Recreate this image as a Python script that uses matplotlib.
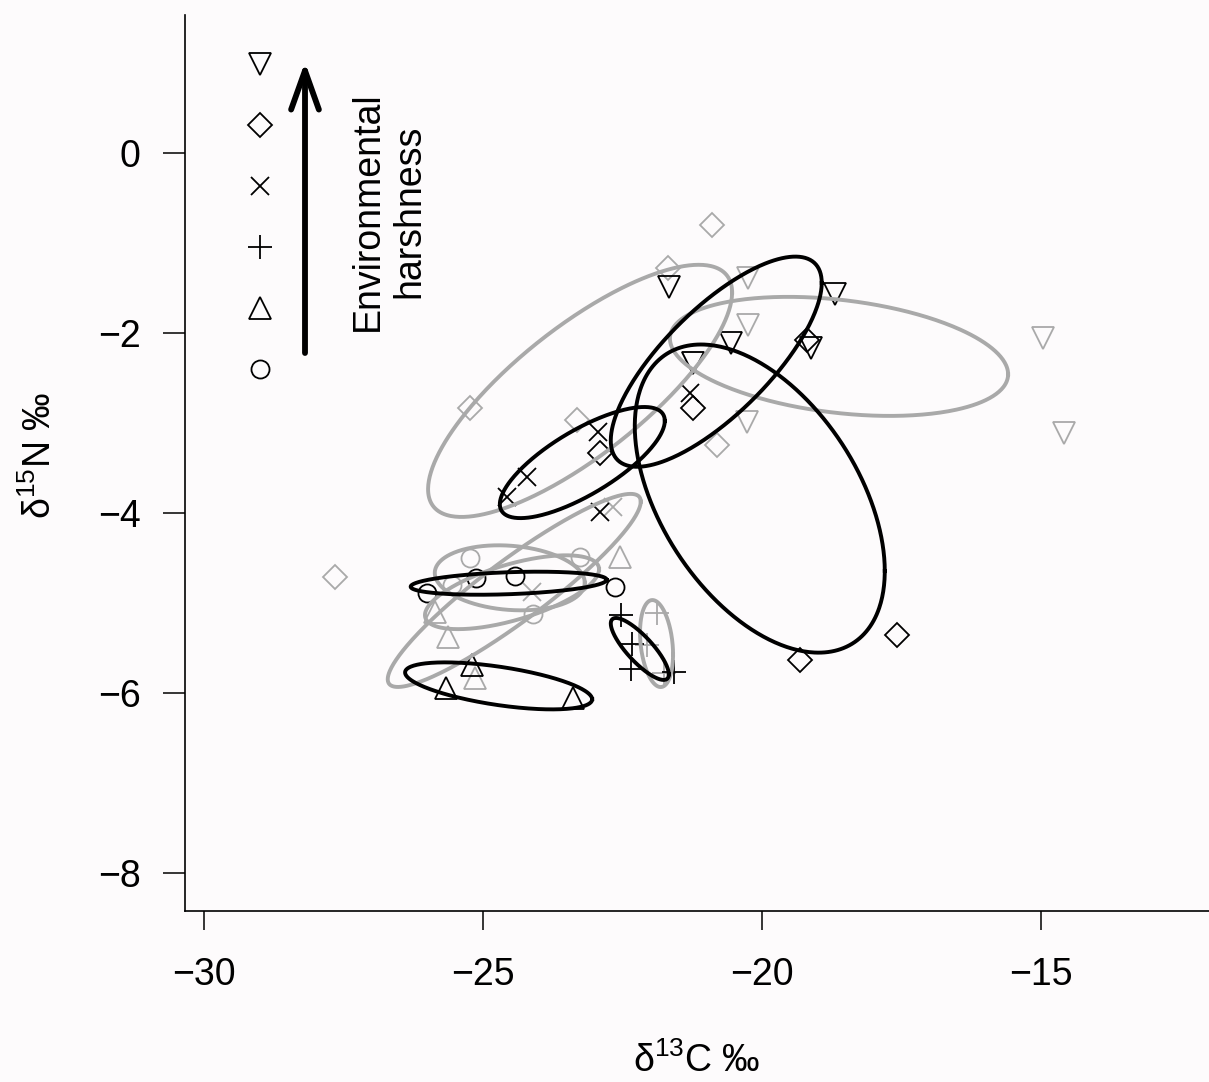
import matplotlib
matplotlib.use("Agg")
import matplotlib.pyplot as plt
import numpy as np

plt.rcParams['font.family'] = ['Liberation Sans', 'DejaVu Sans']
plt.rcParams['mathtext.fontset'] = 'custom'
plt.rcParams['mathtext.rm'] = 'Liberation Sans'

# ---------------- data (d13C, d15N) ----------------
# black = group 1, grey = group 2
circle_black_x = [-26.00, -25.13, -24.43, -22.63]
circle_black_y = [-4.89, -4.72, -4.70, -4.82]
circle_grey_x = [-25.23, -23.26, -24.10, -25.56]
circle_grey_y = [-4.50, -4.49, -5.12, -4.80]

triup_black_x = [-25.20, -25.66, -23.39]
triup_black_y = [-5.69, -5.94, -6.06]
triup_grey_x = [-22.54, -25.86, -25.63, -25.14]
triup_grey_y = [-4.49, -5.10, -5.38, -5.83]

plus_black_x = [-22.53, -22.33, -22.35, -21.58]
plus_black_y = [-5.13, -5.46, -5.73, -5.77]
plus_grey_x = [-21.88, -22.06, -21.76]
plus_grey_y = [-5.11, -5.47, -5.78]

cross_black_x = [-24.57, -24.21, -22.94, -22.90, -21.29]
cross_black_y = [-3.82, -3.60, -3.10, -3.99, -2.67]
cross_grey_x = [-22.67, -24.12]
cross_grey_y = [-3.93, -4.88]

diam_black_x = [-22.90, -21.24, -19.19, -19.32, -17.58]
diam_black_y = [-3.33, -2.83, -2.08, -5.63, -5.36]
diam_grey_x = [-25.23, -23.32, -21.68, -20.90, -20.81, -27.65]
diam_grey_y = [-2.83, -2.97, -1.28, -0.80, -3.24, -4.71]

tridn_black_x = [-21.67, -20.56, -18.69, -19.12, -21.24]
tridn_black_y = [-1.49, -2.11, -1.57, -2.17, -2.33]
tridn_grey_x = [-20.25, -20.25, -20.27, -14.96, -14.59, -21.24]
tridn_grey_y = [-1.39, -1.91, -2.99, -2.06, -3.11, -2.33]

# standard ellipses: centre x, centre y, sd x, sd y, correlation
ell_circle_black = [-24.54, -4.78, 1.756, 0.128, 0.30]
ell_triup_black = [-24.72, -5.92, 1.676, 0.261, -0.57]
ell_plus_black = [-22.19, -5.51, 0.52, 0.344, -0.82]
ell_cross_black = [-23.22, -3.44, 1.478, 0.617, 0.75]
ell_diam_black = [-20.04, -3.84, 2.24, 1.711, -0.47]
ell_tridn_black = [-20.82, -2.32, 1.89, 1.167, 0.75]

ell_circle_grey = [-24.52, -4.72, 1.344, 0.361, -0.15]
ell_triup_grey = [-24.44, -4.86, 2.267, 1.072, 0.92]
ell_cross_grey = [-24.48, -4.88, 1.56, 0.41, 0.62]
ell_diam_grey = [-23.26, -2.644, 2.724, 1.40, 0.78]
ell_plus_grey = [-21.89, -5.45, 0.296, 0.483, -0.25]
ell_tridn_grey = [-18.62, -2.261, 3.03, 0.661, -0.30]

x_ticks = [-30, -25, -20, -15]
y_ticks = [0, -2, -4, -6, -8]
legend_symbols = ['v', 'D', 'x', '+', '^', 'o']

# ---------------- style ----------------
BG = '#fdfbfc'
BLACK = '#000000'
GREY = '#a9a9a9'
FS = 27

fig = plt.figure(figsize=(12.09, 10.82), dpi=100, facecolor=BG)
ax = fig.add_axes([185 / 1209, (1082 - 911) / 1082, 1 - 185 / 1209, (911 - 15) / 1082])
ax.set_facecolor(BG)
ax.set_xlim(-30.34, -11.99)
ax.set_ylim(-8.42, 1.53)

marker_style = {
    'o': dict(ms=13),
    '^': dict(ms=16),
    'v': dict(ms=16),
    '+': dict(ms=17),
    'x': dict(ms=13),
    'D': dict(ms=12),
}

groups = [
    ('o', circle_black_x, circle_black_y, circle_grey_x, circle_grey_y),
    ('^', triup_black_x, triup_black_y, triup_grey_x, triup_grey_y),
    ('+', plus_black_x, plus_black_y, plus_grey_x, plus_grey_y),
    ('x', cross_black_x, cross_black_y, cross_grey_x, cross_grey_y),
    ('D', diam_black_x, diam_black_y, diam_grey_x, diam_grey_y),
    ('v', tridn_black_x, tridn_black_y, tridn_grey_x, tridn_grey_y),
]
for m, bx, by, gx, gy in groups:
    ax.plot(gx, gy, linestyle='none', marker=m, mfc='none', mec=GREY,
            mew=1.3, zorder=2, **marker_style[m])
    ax.plot(bx, by, linestyle='none', marker=m, mfc='none', mec=BLACK,
            mew=1.3, zorder=3, **marker_style[m])


def draw_ellipse(params, color, z):
    cx, cy, sx, sy, rho = params
    t = np.linspace(0, 2 * np.pi, 400)
    x = cx + sx * np.cos(t)
    y = cy + sy * (rho * np.cos(t) + np.sqrt(1 - rho ** 2) * np.sin(t))
    ax.plot(x, y, color=color, lw=2.8, zorder=z, solid_joinstyle='round')


for e in [ell_circle_grey, ell_triup_grey, ell_cross_grey, ell_diam_grey,
          ell_plus_grey, ell_tridn_grey]:
    draw_ellipse(e, GREY, 4)
for e in [ell_circle_black, ell_triup_black, ell_plus_black, ell_cross_black,
          ell_diam_black, ell_tridn_black]:
    draw_ellipse(e, BLACK, 5)

# legend column of symbols (layout in axes fraction)
leg_x = (260 - 185) / 1024
leg_top = (911 - 64) / 896
leg_step = 61 / 896
for i, m in enumerate(legend_symbols):
    ax.plot([leg_x], [leg_top - i * leg_step], transform=ax.transAxes,
            linestyle='none', marker=m, mfc='none', mec=BLACK, mew=1.3,
            clip_on=False, **marker_style[m])

# arrow
arr_x = (305 - 185) / 1024
ax.annotate('', xy=(arr_x, (911 - 62) / 896), xytext=(arr_x, (911 - 353) / 896),
            xycoords='axes fraction', textcoords='axes fraction',
            arrowprops=dict(arrowstyle='->,head_length=1.4,head_width=0.5',
                            lw=4.2, color=BLACK, shrinkA=0, shrinkB=0,
                            mutation_scale=20, capstyle='round',
                            joinstyle='round'))
ax.text((389 - 185) / 1024, (911 - 211) / 896, 'Environmental\nharshness',
        transform=ax.transAxes, rotation=90, ha='center', va='center',
        multialignment='center', fontsize=FS)

# axes
for s in ['top', 'right']:
    ax.spines[s].set_visible(False)
for s in ['left', 'bottom']:
    ax.spines[s].set_linewidth(1.2)
ax.set_xticks(x_ticks)
ax.set_yticks(y_ticks)
ax.set_xticklabels([f'\u2212{abs(v)}' if v < 0 else str(v) for v in x_ticks])
ax.set_yticklabels([f'\u2212{abs(v)}' if v < 0 else str(v) for v in y_ticks])
ax.tick_params(axis='x', length=14, width=1.1, pad=19, labelsize=FS)
ax.tick_params(axis='y', length=16, width=1.1, pad=16, labelsize=FS)

ax.set_xlabel('$\\mathregular{\u03b4^{13}C}$ \u2030', fontsize=FS, va='center')
ax.xaxis.set_label_coords(0.5, (911 - 1061) / 896)
ax.set_ylabel('$\\mathregular{\u03b4^{15}N}$ \u2030', fontsize=FS, va='center',
              rotation=90)
ax.yaxis.set_label_coords((40 - 185) / 1024, (911 - 455) / 896)

fig.savefig('out.png', dpi=100, facecolor=BG)
